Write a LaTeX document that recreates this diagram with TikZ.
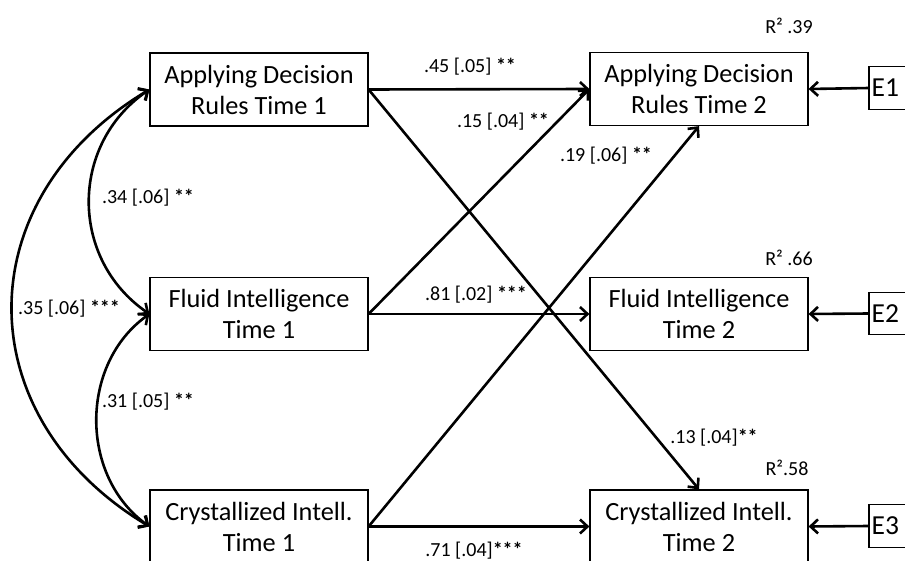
\documentclass[tikz,border=0pt]{standalone}
\usepackage{fontspec}
\setmainfont{Carlito}
\usetikzlibrary{arrows.meta}
\begin{document}
\begin{tikzpicture}[x=1pt,y=-1pt,
  box/.style={draw, line width=1.2pt, minimum width=218pt, minimum height=73pt, align=center, inner sep=0pt, font=\fontsize{26.3}{31}\selectfont},
  ebox/.style={minimum height=42pt, inner xsep=2.5pt, inner ysep=0pt, font=\fontsize{27.5}{30}\selectfont},
  eframe/.style={line width=1.2pt},
  lab/.style={font=\fontsize{20}{22}\selectfont, inner sep=0pt},
  tip/.tip={Straight Barb[length=7.5pt,width=14pt]},
  conn/.style={line width=2.6pt, -tip},
  dconn/.style={line width=2.6pt, tip-tip},
]
\useasboundingbox (0,0) rectangle (905,561);
\clip (0,0) rectangle (905,561);
\fill[white] (0,0) rectangle (905,561);

\node[box] (ard1) at (259,89.5) {Applying Decision\\Rules Time 1};
\node[box] (fl1) at (259,314) {Fluid Intelligence\\Time 1};
\node[box] (cr1) at (259,526.5) {Crystallized Intell.\\Time 1};
\node[box] (ard2) at (699,89) {Applying Decision\\Rules Time 2};
\node[box] (fl2) at (699,314) {Fluid Intelligence\\Time 2};
\node[box] (cr2) at (699,526.5) {Crystallized Intell.\\Time 2};

\node[ebox, anchor=west] (e1) at (869,88) {E1};
\node[ebox, anchor=west] (e2) at (869,313.5) {E2};
\node[ebox, anchor=west] (e3) at (869,526) {E3};
\foreach \e in {e1,e2,e3}{
  \draw[eframe] ([xshift=50pt]\e.north west) -- (\e.north west) -- (\e.south west) -- ([xshift=50pt]\e.south west);
}

\draw[conn] (ard1.east) -- (ard2.west);
\draw[conn] (ard1.east) -- (cr2.north);
\draw[conn] (fl1.east) -- (ard2.west);
\draw[conn] (fl1.east) -- (fl2.west);
\draw[conn] (cr1.east) -- (ard2.south);
\draw[conn] (cr1.east) -- (cr2.west);

\draw[conn] (e1.west) -- (ard2.east);
\draw[conn] (e2.west) -- (fl2.east);
\draw[conn] (e3.west) -- (cr2.east);

\draw[dconn] (ard1.west) .. controls +(-80,55) and +(-80,-55) .. (fl1.west);
\draw[dconn] (ard1.west) .. controls +(-183,110) and +(-183,-110) .. (cr1.west);
\draw[dconn] (fl1.west) .. controls +(-70,50) and +(-70,-50) .. (cr1.west);

\node[lab] (l45) at (470,67) {.45 [.05] \textbf{**}};
\node[lab] (l15) at (503,122) {.15 [.04] \textbf{**}};
\node[lab] (l19) at (606,156) {.19 [.06] \textbf{**}};
\node[lab] (l81) at (476,295) {.81 [.02] \textbf{***}};
\node[lab] (l71) at (474,551) {.71 [.04]\textbf{***}};
\node[lab] (l13) at (714,438) {.13 [.04]\textbf{**}};
\node[lab] (l34) at (148,198) {.34 [.06] \textbf{**}};
\node[lab] (l35) at (69,309) {.35 [.06] \textbf{***}};
\node[lab] (l31) at (148,402) {.31 [.05] \textbf{**}};

\node[lab] (r1) at (789,26) {R² .39};
\node[lab] (r2) at (789,258) {R² .66};
\node[lab] (r3) at (787,468) {R².58};
\end{tikzpicture}
\end{document}
